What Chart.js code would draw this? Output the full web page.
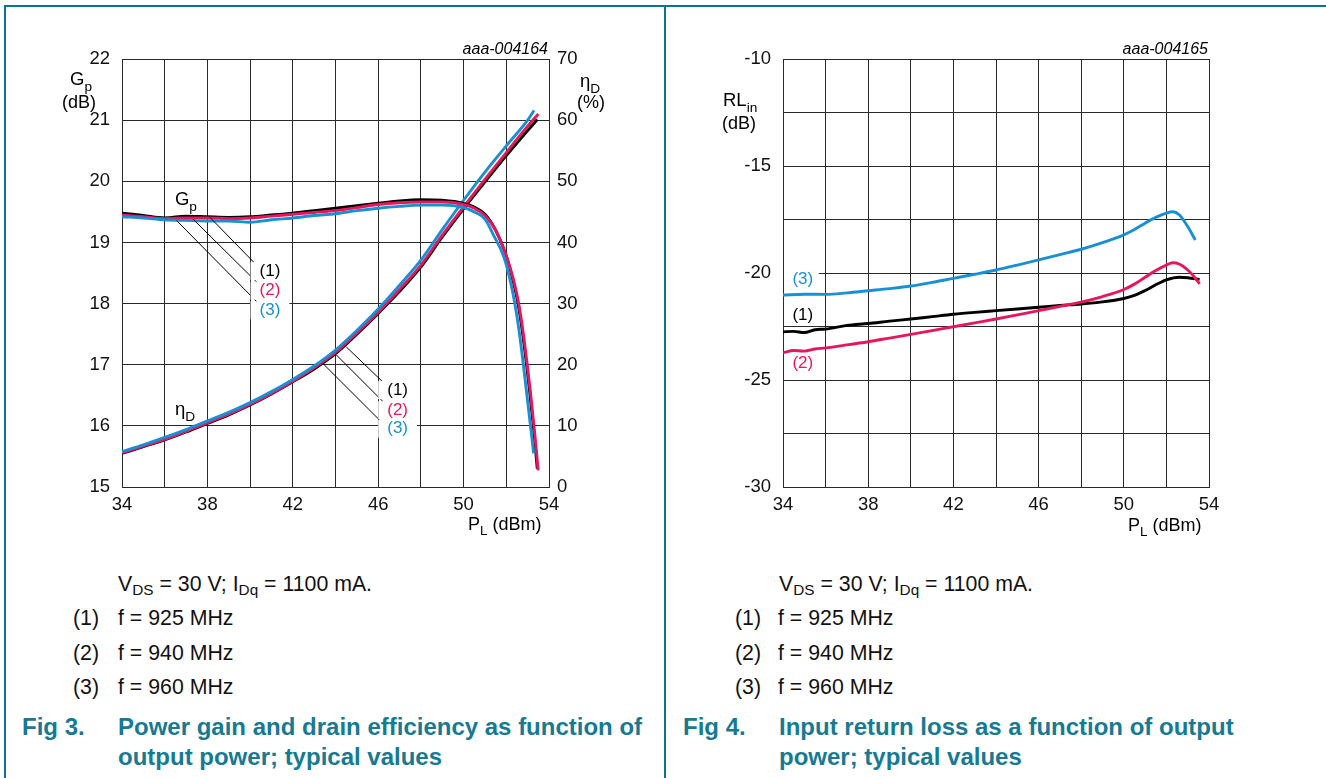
<!DOCTYPE html>
<html>
<head>
<meta charset="utf-8">
<script src="https://cdn.jsdelivr.net/npm/chart.js@4.4.1/dist/chart.umd.min.js"></script>
<style>
  html, body { margin:0; padding:0; background:#fff; width:1326px; height:778px; overflow:hidden; }
  body { position:relative; font-family:"Liberation Sans", Arial, sans-serif; color:#111; }
  canvas { position:absolute; top:0; }
  .frame { position:absolute; background:#0b7590; }
  .t { position:absolute; white-space:nowrap; line-height:1; font-size:21.3px; }
  .t sub { font-size:0.72em; vertical-align:-0.28em; line-height:0; }
  .cap { position:absolute; white-space:nowrap; line-height:1; font-size:24px; font-weight:bold; color:#177a93; }
</style>
</head>
<body>
<div class="frame" style="left:4px;top:5px;width:1322px;height:2px;"></div>
<div class="frame" style="left:4px;top:5px;width:2px;height:773px;"></div>
<div class="frame" style="left:664px;top:5px;width:2px;height:773px;"></div>

<canvas id="c1" width="664" height="540" style="left:0px;"></canvas>
<canvas id="c2" width="660" height="540" style="left:666px;"></canvas>

<div class="t" style="left:118px;top:574px;">V<sub>DS</sub> = 30 V; I<sub>Dq</sub> = 1100 mA.</div>
<div class="t" style="left:73px;top:608px;">(1)</div><div class="t" style="left:118px;top:608px;">f = 925 MHz</div>
<div class="t" style="left:73px;top:643px;">(2)</div><div class="t" style="left:118px;top:643px;">f = 940 MHz</div>
<div class="t" style="left:73px;top:677px;">(3)</div><div class="t" style="left:118px;top:677px;">f = 960 MHz</div>
<div class="cap" style="left:22px;top:715px;">Fig 3.</div>
<div class="cap" style="left:118px;top:715px;">Power gain and drain efficiency as function of</div>
<div class="cap" style="left:118px;top:745px;">output power; typical values</div>

<div class="t" style="left:779px;top:574px;">V<sub>DS</sub> = 30 V; I<sub>Dq</sub> = 1100 mA.</div>
<div class="t" style="left:735px;top:608px;">(1)</div><div class="t" style="left:778px;top:608px;">f = 925 MHz</div>
<div class="t" style="left:735px;top:643px;">(2)</div><div class="t" style="left:778px;top:643px;">f = 940 MHz</div>
<div class="t" style="left:735px;top:677px;">(3)</div><div class="t" style="left:778px;top:677px;">f = 960 MHz</div>
<div class="cap" style="left:683px;top:715px;">Fig 4.</div>
<div class="cap" style="left:779px;top:715px;">Input return loss as a function of output</div>
<div class="cap" style="left:779px;top:745px;">power; typical values</div>

<script>
// ---------------- DATA ----------------
// Fig 3: power gain Gp (dB) vs PL (dBm)
const xGain1 = [34,35,36,37,38,39,40,41,42,43,44,45,46,47,48,49,50,50.5,51,51.5,52,52.3,52.55,52.75,52.95,53.1,53.25,53.35,53.45];
const gain1  = [19.48,19.44,19.40,19.43,19.42,19.41,19.42,19.45,19.48,19.52,19.56,19.60,19.64,19.68,19.70,19.69,19.64,19.58,19.46,19.2,18.78,18.4,18.0,17.55,17.0,16.55,16.05,15.7,15.3];
const xGain2 = [34,35,36,37,38,39,40,41,42,43,44,45,46,47,48,49,50,50.5,51,51.5,52,52.33,52.58,52.78,52.98,53.13,53.28,53.38,53.49];
const gain2  = [19.45,19.42,19.39,19.40,19.40,19.39,19.40,19.43,19.46,19.49,19.52,19.57,19.62,19.65,19.66,19.66,19.62,19.56,19.44,19.2,18.78,18.4,18.0,17.55,17.0,16.55,16.05,15.7,15.27];
const xGain3 = [34,35,36,37,38,39,40,41,42,43,44,45,46,47,48,49,50,50.5,51,51.4,51.9,52.2,52.4,52.6,52.8,52.95,53.1,53.2,53.28];
const gain3  = [19.42,19.40,19.37,19.36,19.35,19.35,19.33,19.37,19.40,19.44,19.47,19.52,19.56,19.59,19.61,19.61,19.57,19.50,19.38,19.12,18.75,18.35,18.0,17.55,17.0,16.55,16.1,15.8,15.55];
// Fig 3: drain efficiency etaD (%) vs PL (dBm)
const xEff1 = [34,35,36,37,38,39,40,41,42,43,44,45,46,47,48,49,50,51,52,53,53.45];
const eff1  = [5.5,6.6,7.7,9.0,10.4,11.8,13.4,15.2,17.2,19.3,21.8,25.0,28.4,32.0,36.0,40.9,45.5,49.9,54.2,58.3,60.1];
const xEff2 = [34,35,36,37,38,39,40,41,42,43,44,45,46,47,48,49,50,51,52,53,53.5];
const eff2  = [5.6,6.7,7.8,9.1,10.5,11.9,13.5,15.3,17.3,19.5,22.0,25.2,28.6,32.3,36.3,41.2,45.8,50.3,54.7,59.0,61.0];
const xEff3 = [34,35,36,37,38,39,40,41,42,43,44,45,46,47,48,49,50,51,52,53,53.3];
const eff3  = [5.8,6.9,8.1,9.4,10.8,12.2,13.8,15.6,17.6,19.8,22.4,25.6,29.1,33.0,37.1,42.1,46.9,51.5,55.8,60.0,61.6];
// Fig 4: input return loss RLin (dB) vs PL (dBm)
const xRL1 = [34,34.5,35,35.5,36,37,38,39,40,41,42,43,44,45,46,47,48,49,50,50.5,51,51.5,52,52.6,53,53.56];
const rl1  = [-22.75,-22.73,-22.78,-22.65,-22.62,-22.45,-22.36,-22.25,-22.15,-22.04,-21.93,-21.84,-21.76,-21.68,-21.6,-21.52,-21.45,-21.35,-21.19,-21.05,-20.82,-20.55,-20.32,-20.2,-20.22,-20.3];
const xRL2 = [34,34.5,35,35.5,36,37,38,39,40,41,42,43,44,45,46,47,48,49,50,50.5,51,51.5,52,52.3,52.6,53,53.3,53.56];
const rl2  = [-23.73,-23.62,-23.65,-23.55,-23.5,-23.36,-23.21,-23.04,-22.87,-22.69,-22.51,-22.33,-22.15,-21.96,-21.76,-21.56,-21.36,-21.1,-20.77,-20.52,-20.2,-19.88,-19.63,-19.52,-19.58,-19.86,-20.17,-20.51];
const xRL3 = [34,35,36,37,38,39,40,41,42,43,44,45,46,47,48,49,50,50.5,51,51.5,52,52.3,52.6,53,53.36];
const rl3  = [-21.03,-20.99,-21.0,-20.93,-20.83,-20.73,-20.61,-20.44,-20.25,-20.06,-19.86,-19.63,-19.39,-19.14,-18.89,-18.58,-18.22,-17.97,-17.67,-17.4,-17.2,-17.14,-17.28,-17.83,-18.46];
// Tick labels
const xTickLabels = [34,38,42,46,50,54];
const gainTicks = [15,16,17,18,19,20,21,22];
const effTicks = [0,10,20,30,40,50,60,70];
const rlTickLabels = [-30,-25,-20,-15,-10];
const seriesLabels = ['(1)','(2)','(3)'];

// ---------------- STYLE ----------------
const BLACK = '#000000', RED = '#e8175d', BLUE = '#1a8fd3';
const FONT = '"Liberation Sans", Arial, sans-serif';
const GRID = '#2a2a2a';

function pts(xs, ys){ return xs.map((x,i)=>({x:x, y:ys[i]})); }
function ds(xs, ys, color, axis){
  return { data: pts(xs, ys), borderColor: color, borderWidth: 2.9, pointRadius: 0,
           cubicInterpolationMode: 'monotone', fill: false, yAxisID: axis };
}
function rich(ctx, x, y, parts, size, color, italic){
  ctx.save();
  ctx.fillStyle = color; ctx.textAlign = 'left'; ctx.textBaseline = 'alphabetic';
  let cx = x;
  for (const [t, sub] of parts){
    const s = sub ? size*0.74 : size;
    ctx.font = (italic ? 'italic ' : '') + s + 'px ' + FONT;
    ctx.fillText(t, cx, y + (sub ? size*0.3 : 0));
    cx += ctx.measureText(t).width;
  }
  ctx.restore();
}
function label(ctx, x, y, t, color, bg){
  ctx.save();
  ctx.font = '17px ' + FONT;
  const w = ctx.measureText(t).width;
  if (bg){ ctx.fillStyle = '#fff'; ctx.fillRect(x - w/2 - bg, y - 9, w + 2*bg, 18); }
  ctx.fillStyle = color; ctx.textAlign = 'center'; ctx.textBaseline = 'middle';
  ctx.fillText(t, x, y);
  ctx.restore();
}
function line(ctx, x1, y1, x2, y2){
  ctx.save(); ctx.strokeStyle = '#000'; ctx.lineWidth = 1;
  ctx.beginPath(); ctx.moveTo(x1, y1); ctx.lineTo(x2, y2); ctx.stroke(); ctx.restore();
}
const colors = [BLACK, RED, BLUE];

// callouts (data coordinates)
const gainCallouts = [ {from:[38.12,19.41], to:[40.30,18.63], at:[40.93,18.53]},
                       {from:[37.33,19.38], to:[40.37,18.33], at:[40.93,18.21]},
                       {from:[36.55,19.36], to:[40.37,18.01], at:[40.93,17.89]} ];
const effCallouts  = [ {from:[44.51,22.9], to:[46.30,16.9], at:[46.91,15.84]},
                       {from:[44.04,21.6], to:[46.30,13.7], at:[46.91,12.56]},
                       {from:[43.41,20.2], to:[46.22,10.4], at:[46.91,9.53]} ];
const rlLabels = [ {at:[34.93,-21.97]}, {at:[34.93,-24.22]}, {at:[34.93,-20.28]} ];

const plugin1 = {
  id: 'p1',
  afterDatasetsDraw(chart){
    const ctx = chart.ctx, sx = chart.scales.x, sy = chart.scales.y, s2 = chart.scales.y2;
    gainCallouts.forEach((c,i)=>{
      line(ctx, sx.getPixelForValue(c.from[0]), sy.getPixelForValue(c.from[1]),
                sx.getPixelForValue(c.to[0]), sy.getPixelForValue(c.to[1]));
    });
    effCallouts.forEach((c,i)=>{
      line(ctx, sx.getPixelForValue(c.from[0]), s2.getPixelForValue(c.from[1]),
                sx.getPixelForValue(c.to[0]), s2.getPixelForValue(c.to[1]));
    });
    gainCallouts.forEach((c,i)=>label(ctx, sx.getPixelForValue(c.at[0]), sy.getPixelForValue(c.at[1]), seriesLabels[i], colors[i], 9));
    effCallouts.forEach((c,i)=>label(ctx, sx.getPixelForValue(c.at[0]), s2.getPixelForValue(c.at[1]), seriesLabels[i], colors[i], 9));
    const a = chart.chartArea;
    rich(ctx, sx.getPixelForValue(36.48), sy.getPixelForValue(19.61), [['G',0],['p',1]], 18.5, '#000');
    rich(ctx, sx.getPixelForValue(36.48), s2.getPixelForValue(11.7), [['η',0],['D',1]], 18.5, '#000');
    // axis titles
    rich(ctx, a.left - 52, a.top + 26, [['G',0],['p',1]], 18.5, '#000');
    rich(ctx, a.left - 60, a.top + 49, [['(dB)',0]], 18, '#000');
    rich(ctx, a.right + 31, a.top + 28, [['η',0],['D',1]], 18.5, '#000');
    rich(ctx, a.right + 28, a.top + 49, [['(%)',0]], 18, '#000');
    ctx.save(); ctx.font = 'italic 16px ' + FONT; ctx.fillStyle = '#000'; ctx.textAlign = 'right';
    ctx.fillText('aaa-004164', a.right - 1, a.top - 5); ctx.restore();
    rich(ctx, a.right - 81, a.bottom + 43, [['P',0],['L',1],[' (dBm)',0]], 18, '#000');
  }
};
const plugin2 = {
  id: 'p2',
  afterDatasetsDraw(chart){
    const ctx = chart.ctx, sx = chart.scales.x, sy = chart.scales.y, a = chart.chartArea;
    rlLabels.forEach((c,i)=>{
      const x = sx.getPixelForValue(c.at[0]), y = sy.getPixelForValue(c.at[1]);
      if (i === 2){ ctx.save(); ctx.fillStyle = '#fff'; ctx.fillRect(a.left + 1, y - 9, x + 15 - a.left, 18); ctx.restore(); }
      label(ctx, x, y, seriesLabels[i], colors[i], 0);
    });
    rich(ctx, a.left - 60, a.top + 47, [['RL',0],['in',1]], 18.5, '#000');
    rich(ctx, a.left - 61, a.top + 70, [['(dB)',0]], 18, '#000');
    ctx.save(); ctx.font = 'italic 16px ' + FONT; ctx.fillStyle = '#000'; ctx.textAlign = 'right';
    ctx.fillText('aaa-004165', a.right - 1, a.top - 5); ctx.restore();
    rich(ctx, a.right - 81, a.bottom + 44, [['P',0],['L',1],[' (dBm)',0]], 18, '#000');
  }
};

const tickFont = { family: FONT, size: 18.5 };
const gridCfg = { color: GRID, lineWidth: 1, drawTicks: false };
const borderCfg = { display: true, color: GRID, width: 1 };

const xScale = {
  type: 'linear', min: 34, max: 54,
  ticks: { stepSize: 2, font: tickFont, color: '#111', padding: 7, maxRotation: 0,
           callback: v => xTickLabels.includes(v) ? String(v) : '' },
  grid: gridCfg, border: borderCfg,
  afterFit: s => { s.height = 53; }
};

new Chart(document.getElementById('c1'), {
  type: 'line',
  data: { datasets: [
    ds(xGain3, gain3, BLUE, 'y'), ds(xGain2, gain2, RED, 'y'), ds(xGain1, gain1, BLACK, 'y'),
    ds(xEff3, eff3, BLUE, 'y2'), ds(xEff2, eff2, RED, 'y2'), ds(xEff1, eff1, BLACK, 'y2')
  ]},
  options: {
    responsive: false, animation: false, devicePixelRatio: 1,
    layout: { padding: { top: 59, left: 0, right: 0, bottom: 0 } },
    plugins: { legend: { display: false }, tooltip: { enabled: false } },
    scales: {
      x: xScale,
      y: { type: 'linear', position: 'left', min: gainTicks[0], max: gainTicks[gainTicks.length-1],
           ticks: { stepSize: 1, font: tickFont, color: '#111', padding: 12 },
           grid: gridCfg, border: borderCfg, afterFit: s => { s.width = 122; } },
      y2: { type: 'linear', position: 'right', min: effTicks[0], max: effTicks[effTicks.length-1],
           ticks: { stepSize: 10, font: tickFont, color: '#111', padding: 8 },
           grid: { drawOnChartArea: false, drawTicks: false }, border: borderCfg,
           afterFit: s => { s.width = 115; } }
    }
  },
  plugins: [plugin1]
});

new Chart(document.getElementById('c2'), {
  type: 'line',
  data: { datasets: [ ds(xRL3, rl3, BLUE, 'y'), ds(xRL2, rl2, RED, 'y'), ds(xRL1, rl1, BLACK, 'y') ] },
  options: {
    responsive: false, animation: false, devicePixelRatio: 1,
    layout: { padding: { top: 59, left: 0, right: 117, bottom: 0 } },
    plugins: { legend: { display: false }, tooltip: { enabled: false } },
    scales: {
      x: Object.assign({}, xScale),
      y: { type: 'linear', position: 'left', min: rlTickLabels[0], max: rlTickLabels[rlTickLabels.length-1],
           ticks: { stepSize: 2.5, font: tickFont, color: '#111', padding: 12,
                    callback: v => rlTickLabels.includes(v) ? String(v) : '' },
           grid: gridCfg, border: borderCfg, afterFit: s => { s.width = 117; } }
    }
  },
  plugins: [plugin2]
});
</script>
</body>
</html>
